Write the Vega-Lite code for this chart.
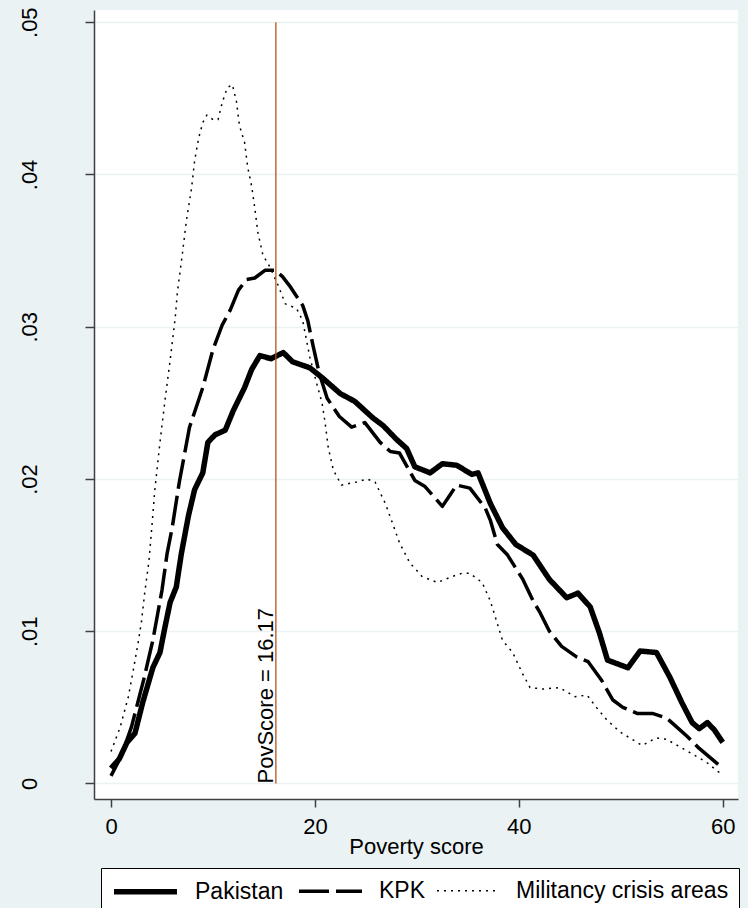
{
  "$schema": "https://vega.github.io/schema/vega-lite/v6.json",
  "width": 644,
  "height": 789,
  "autosize": {"type": "none"},
  "padding": {"left": 94, "top": 10, "right": 10, "bottom": 109},
  "background": "#EAF2F3",
  "config": {"view": {"fill": "white", "stroke": null}, "font": "Liberation Sans"},
  "datasets": {
    "curves": [
      {"s":"Pakistan","x":0,"y":0.001},{"s":"Pakistan","x":0.8,"y":0.0016},{"s":"Pakistan","x":1.57,"y":0.0027},{"s":"Pakistan","x":2.35,"y":0.0033},{"s":"Pakistan","x":3.1,"y":0.0053},{"s":"Pakistan","x":4.1,"y":0.0076},{"s":"Pakistan","x":4.8,"y":0.0086},{"s":"Pakistan","x":5.3,"y":0.0103},{"s":"Pakistan","x":5.8,"y":0.0119},{"s":"Pakistan","x":6.4,"y":0.0129},{"s":"Pakistan","x":6.9,"y":0.0151},{"s":"Pakistan","x":7.6,"y":0.0176},{"s":"Pakistan","x":8.2,"y":0.0193},{"s":"Pakistan","x":9.0,"y":0.0204},{"s":"Pakistan","x":9.5,"y":0.0224},{"s":"Pakistan","x":10.2,"y":0.0229},{"s":"Pakistan","x":11.2,"y":0.0232},{"s":"Pakistan","x":12.0,"y":0.0245},{"s":"Pakistan","x":13.1,"y":0.026},{"s":"Pakistan","x":13.8,"y":0.0272},{"s":"Pakistan","x":14.6,"y":0.0281},{"s":"Pakistan","x":15.7,"y":0.0279},{"s":"Pakistan","x":16.9,"y":0.0283},{"s":"Pakistan","x":17.8,"y":0.0277},{"s":"Pakistan","x":19.5,"y":0.0273},{"s":"Pakistan","x":20.8,"y":0.0266},{"s":"Pakistan","x":22.5,"y":0.0256},{"s":"Pakistan","x":23.9,"y":0.0251},{"s":"Pakistan","x":25.7,"y":0.024},{"s":"Pakistan","x":26.7,"y":0.0235},{"s":"Pakistan","x":28.0,"y":0.0226},{"s":"Pakistan","x":29.0,"y":0.022},{"s":"Pakistan","x":29.8,"y":0.0208},{"s":"Pakistan","x":31.3,"y":0.0204},{"s":"Pakistan","x":32.5,"y":0.021},{"s":"Pakistan","x":33.9,"y":0.0209},{"s":"Pakistan","x":35.4,"y":0.0203},{"s":"Pakistan","x":36.0,"y":0.0204},{"s":"Pakistan","x":37.2,"y":0.0184},{"s":"Pakistan","x":38.4,"y":0.0168},{"s":"Pakistan","x":39.7,"y":0.0157},{"s":"Pakistan","x":41.4,"y":0.015},{"s":"Pakistan","x":43.0,"y":0.0134},{"s":"Pakistan","x":44.7,"y":0.0122},{"s":"Pakistan","x":45.8,"y":0.0125},{"s":"Pakistan","x":47.0,"y":0.0116},{"s":"Pakistan","x":47.9,"y":0.0099},{"s":"Pakistan","x":48.7,"y":0.0081},{"s":"Pakistan","x":50.7,"y":0.0076},{"s":"Pakistan","x":51.9,"y":0.0087},{"s":"Pakistan","x":53.5,"y":0.0086},{"s":"Pakistan","x":54.8,"y":0.007},{"s":"Pakistan","x":56.0,"y":0.0053},{"s":"Pakistan","x":57.0,"y":0.004},{"s":"Pakistan","x":57.7,"y":0.0036},{"s":"Pakistan","x":58.5,"y":0.004},{"s":"Pakistan","x":59.2,"y":0.0035},{"s":"Pakistan","x":60.0,"y":0.0027},
      {"s":"KPK","x":0,"y":0.0005},{"s":"KPK","x":1,"y":0.0018},{"s":"KPK","x":2.0,"y":0.0037},{"s":"KPK","x":3.2,"y":0.0068},{"s":"KPK","x":4.1,"y":0.0094},{"s":"KPK","x":5.0,"y":0.0127},{"s":"KPK","x":5.5,"y":0.0151},{"s":"KPK","x":6.0,"y":0.0168},{"s":"KPK","x":6.7,"y":0.0198},{"s":"KPK","x":7.7,"y":0.0234},{"s":"KPK","x":9.0,"y":0.026},{"s":"KPK","x":10.0,"y":0.0285},{"s":"KPK","x":10.9,"y":0.0301},{"s":"KPK","x":11.7,"y":0.0311},{"s":"KPK","x":12.5,"y":0.0324},{"s":"KPK","x":13.3,"y":0.0331},{"s":"KPK","x":14.1,"y":0.0332},{"s":"KPK","x":15.1,"y":0.0337},{"s":"KPK","x":16.1,"y":0.0337},{"s":"KPK","x":16.8,"y":0.0333},{"s":"KPK","x":17.5,"y":0.0327},{"s":"KPK","x":18.8,"y":0.0314},{"s":"KPK","x":19.3,"y":0.0304},{"s":"KPK","x":19.8,"y":0.0288},{"s":"KPK","x":20.4,"y":0.027},{"s":"KPK","x":21.2,"y":0.0253},{"s":"KPK","x":22.4,"y":0.0241},{"s":"KPK","x":23.6,"y":0.0234},{"s":"KPK","x":24.9,"y":0.0237},{"s":"KPK","x":26.4,"y":0.0224},{"s":"KPK","x":27.4,"y":0.0218},{"s":"KPK","x":28.3,"y":0.0217},{"s":"KPK","x":29.8,"y":0.0199},{"s":"KPK","x":30.8,"y":0.0195},{"s":"KPK","x":32.5,"y":0.0182},{"s":"KPK","x":33.2,"y":0.0189},{"s":"KPK","x":33.9,"y":0.0196},{"s":"KPK","x":35.2,"y":0.0194},{"s":"KPK","x":36.7,"y":0.0181},{"s":"KPK","x":37.2,"y":0.0173},{"s":"KPK","x":37.9,"y":0.0157},{"s":"KPK","x":38.9,"y":0.015},{"s":"KPK","x":40.4,"y":0.0134},{"s":"KPK","x":41.4,"y":0.012},{"s":"KPK","x":42.1,"y":0.0112},{"s":"KPK","x":43.0,"y":0.01},{"s":"KPK","x":44.2,"y":0.009},{"s":"KPK","x":45.7,"y":0.0083},{"s":"KPK","x":46.8,"y":0.008},{"s":"KPK","x":48.1,"y":0.0068},{"s":"KPK","x":49.2,"y":0.0055},{"s":"KPK","x":50.2,"y":0.005},{"s":"KPK","x":51.6,"y":0.0046},{"s":"KPK","x":53.1,"y":0.0046},{"s":"KPK","x":54.5,"y":0.0043},{"s":"KPK","x":55.5,"y":0.0037},{"s":"KPK","x":56.5,"y":0.0031},{"s":"KPK","x":57.7,"y":0.0023},{"s":"KPK","x":60.0,"y":0.001},
      {"s":"Militancy crisis areas","x":0,"y":0.0021},{"s":"Militancy crisis areas","x":0.9,"y":0.0037},{"s":"Militancy crisis areas","x":1.7,"y":0.0057},{"s":"Militancy crisis areas","x":2.2,"y":0.0075},{"s":"Militancy crisis areas","x":2.7,"y":0.0094},{"s":"Militancy crisis areas","x":3.0,"y":0.0107},{"s":"Militancy crisis areas","x":3.3,"y":0.0125},{"s":"Militancy crisis areas","x":3.7,"y":0.0145},{"s":"Militancy crisis areas","x":4.0,"y":0.0168},{"s":"Militancy crisis areas","x":4.3,"y":0.0193},{"s":"Militancy crisis areas","x":4.8,"y":0.0224},{"s":"Militancy crisis areas","x":5.3,"y":0.0252},{"s":"Militancy crisis areas","x":5.8,"y":0.0278},{"s":"Militancy crisis areas","x":6.3,"y":0.0306},{"s":"Militancy crisis areas","x":6.5,"y":0.0322},{"s":"Militancy crisis areas","x":7.0,"y":0.0348},{"s":"Militancy crisis areas","x":7.4,"y":0.037},{"s":"Militancy crisis areas","x":7.9,"y":0.0391},{"s":"Militancy crisis areas","x":8.2,"y":0.0409},{"s":"Militancy crisis areas","x":8.6,"y":0.0424},{"s":"Militancy crisis areas","x":9.0,"y":0.0434},{"s":"Militancy crisis areas","x":9.4,"y":0.0439},{"s":"Militancy crisis areas","x":10.0,"y":0.0436},{"s":"Militancy crisis areas","x":10.5,"y":0.0436},{"s":"Militancy crisis areas","x":10.9,"y":0.0447},{"s":"Militancy crisis areas","x":11.4,"y":0.0457},{"s":"Militancy crisis areas","x":11.9,"y":0.0459},{"s":"Militancy crisis areas","x":12.3,"y":0.0448},{"s":"Militancy crisis areas","x":12.6,"y":0.0432},{"s":"Militancy crisis areas","x":13.1,"y":0.0421},{"s":"Militancy crisis areas","x":13.4,"y":0.0405},{"s":"Militancy crisis areas","x":13.8,"y":0.0392},{"s":"Militancy crisis areas","x":14.1,"y":0.0378},{"s":"Militancy crisis areas","x":14.4,"y":0.0362},{"s":"Militancy crisis areas","x":14.9,"y":0.0347},{"s":"Militancy crisis areas","x":15.6,"y":0.0339},{"s":"Militancy crisis areas","x":16.4,"y":0.0327},{"s":"Militancy crisis areas","x":17.1,"y":0.0315},{"s":"Militancy crisis areas","x":18.2,"y":0.0312},{"s":"Militancy crisis areas","x":18.8,"y":0.0304},{"s":"Militancy crisis areas","x":19.5,"y":0.028},{"s":"Militancy crisis areas","x":20.2,"y":0.0262},{"s":"Militancy crisis areas","x":20.7,"y":0.025},{"s":"Militancy crisis areas","x":21.0,"y":0.0237},{"s":"Militancy crisis areas","x":21.3,"y":0.0221},{"s":"Militancy crisis areas","x":21.8,"y":0.0206},{"s":"Militancy crisis areas","x":22.6,"y":0.0196},{"s":"Militancy crisis areas","x":24.1,"y":0.0198},{"s":"Militancy crisis areas","x":25.1,"y":0.02},{"s":"Militancy crisis areas","x":25.9,"y":0.0198},{"s":"Militancy crisis areas","x":26.9,"y":0.0184},{"s":"Militancy crisis areas","x":27.5,"y":0.0173},{"s":"Militancy crisis areas","x":28.3,"y":0.0158},{"s":"Militancy crisis areas","x":29.3,"y":0.0145},{"s":"Militancy crisis areas","x":30.5,"y":0.0136},{"s":"Militancy crisis areas","x":32.0,"y":0.0132},{"s":"Militancy crisis areas","x":33.5,"y":0.0136},{"s":"Militancy crisis areas","x":34.4,"y":0.0138},{"s":"Militancy crisis areas","x":35.2,"y":0.0138},{"s":"Militancy crisis areas","x":36.4,"y":0.0132},{"s":"Militancy crisis areas","x":37.2,"y":0.012},{"s":"Militancy crisis areas","x":37.8,"y":0.0107},{"s":"Militancy crisis areas","x":38.4,"y":0.0094},{"s":"Militancy crisis areas","x":39.4,"y":0.0086},{"s":"Militancy crisis areas","x":40.3,"y":0.0073},{"s":"Militancy crisis areas","x":41.1,"y":0.0063},{"s":"Militancy crisis areas","x":42.4,"y":0.0062},{"s":"Militancy crisis areas","x":44.0,"y":0.0063},{"s":"Militancy crisis areas","x":45.5,"y":0.0057},{"s":"Militancy crisis areas","x":46.7,"y":0.0058},{"s":"Militancy crisis areas","x":47.6,"y":0.005},{"s":"Militancy crisis areas","x":48.6,"y":0.0042},{"s":"Militancy crisis areas","x":49.9,"y":0.0034},{"s":"Militancy crisis areas","x":51.1,"y":0.0029},{"s":"Militancy crisis areas","x":52.1,"y":0.0025},{"s":"Militancy crisis areas","x":53.5,"y":0.003},{"s":"Militancy crisis areas","x":54.5,"y":0.0029},{"s":"Militancy crisis areas","x":55.8,"y":0.0024},{"s":"Militancy crisis areas","x":57.1,"y":0.0019},{"s":"Militancy crisis areas","x":58.4,"y":0.0014},{"s":"Militancy crisis areas","x":59.5,"y":0.0008},{"s":"Militancy crisis areas","x":60.0,"y":0.0006}
    ],
    "marker": [{"x": 16.17, "y": 0, "yt": 0.05, "label": "PovScore = 16.17"}]
  },
  "encoding": {
    "x": {
      "field": "x", "type": "quantitative",
      "scale": {"domain": [-1.67, 61.5], "nice": false, "zero": false},
      "axis": {
        "title": "Poverty score", "values": [0, 20, 40, 60], "format": "d", "grid": false,
        "domainColor": "#404040", "domainWidth": 1.5, "tickColor": "#404040", "tickWidth": 1.5, "tickSize": 8,
        "labelFont": "Liberation Sans", "labelFontSize": 22, "labelColor": "black", "labelBaseline": "alphabetic", "labelPadding": 26, "labelFlush": false,
        "titleFont": "Liberation Sans", "titleFontSize": 22, "titleFontWeight": "normal", "titleColor": "black", "titleBaseline": "alphabetic", "titleY": 54
      }
    },
    "y": {
      "field": "y", "type": "quantitative",
      "scale": {"domain": [-0.00102, 0.0508], "nice": false, "zero": false},
      "axis": {
        "title": null, "values": [0, 0.01, 0.02, 0.03, 0.04, 0.05],
        "labelExpr": "datum.value == 0 ? '0' : slice(format(datum.value, '.2f'), 1)",
        "grid": true, "gridColor": "#EAF2F3", "gridWidth": 1.5,
        "domainColor": "#404040", "domainWidth": 1.5, "tickColor": "#404040", "tickWidth": 1.5, "tickSize": 9,
        "labelFont": "Liberation Sans", "labelFontSize": 22, "labelColor": "black", "labelAngle": 270, "labelAlign": "center", "labelBaseline": "bottom", "labelPadding": 44, "labelFlush": false
      }
    }
  },
  "layer": [
    {
      "data": {"name": "curves"},
      "mark": {"type": "line", "color": "black", "strokeCap": "butt", "strokeJoin": "round"},
      "encoding": {
        "strokeWidth": {
          "field": "s", "type": "nominal",
          "scale": {"domain": ["Pakistan", "KPK", "Militancy crisis areas"], "range": [5.5, 1.5, 2]},
          "legend": {
            "title": null, "orient": "none", "legendX": 7, "legendY": 858, "direction": "horizontal",
            "symbolType": "M-1,0H5", "symbolSize": 441, "symbolStrokeColor": "black",
            "labelFont": "Liberation Sans", "labelFontSize": 23, "labelColor": "black", "labelOffset": 57, "labelLimit": 400, "labelBaseline": "middle",
            "columnPadding": 8, "padding": 10, "strokeColor": "black", "fillColor": "white"
          }
        },
        "strokeDash": {
          "field": "s", "type": "nominal",
          "scale": {"domain": ["Pakistan", "KPK", "Militancy crisis areas"], "range": [[1, 0], [30, 7], [2, 5]]},
          "legend": {
            "title": null, "orient": "none", "legendX": 7, "legendY": 858, "direction": "horizontal",
            "symbolType": "M-1,0H5", "symbolSize": 441, "symbolStrokeColor": "black",
            "labelFont": "Liberation Sans", "labelFontSize": 23, "labelColor": "black", "labelOffset": 57, "labelLimit": 400, "labelBaseline": "middle",
            "columnPadding": 8, "padding": 10, "strokeColor": "black", "fillColor": "white"
          }
        }
      }
    },
    {
      "data": {"name": "marker"},
      "mark": {"type": "rule", "color": "#B5541C", "strokeWidth": 1.3},
      "encoding": {"y2": {"field": "yt"}}
    },
    {
      "data": {"name": "marker"},
      "mark": {"type": "text", "angle": 270, "align": "left", "baseline": "alphabetic", "font": "Liberation Sans", "fontSize": 22, "color": "black", "dy": -3},
      "encoding": {"text": {"field": "label"}}
    }
  ]
}
